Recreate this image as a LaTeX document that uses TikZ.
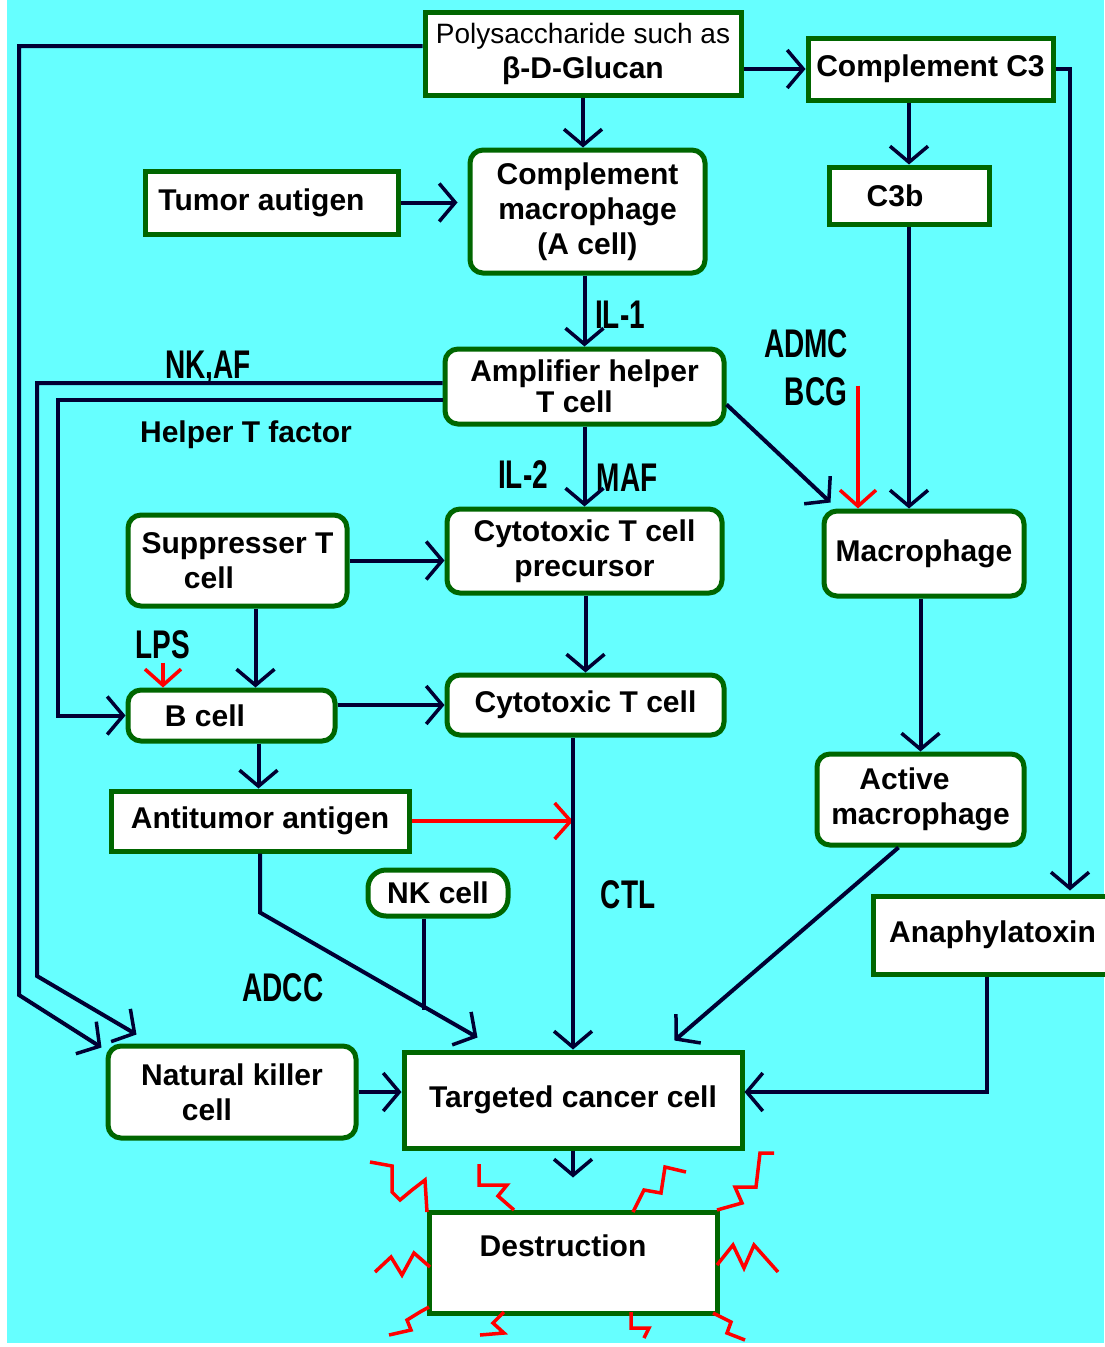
\documentclass[tikz,border=0pt]{standalone}
\usepackage{fontspec}
\setmainfont{Liberation Sans}
\newfontfamily\lblfont{Liberation Sans}[FakeStretch=0.7]
\usetikzlibrary{arrows.meta,calc}
\definecolor{bgc}{HTML}{66FFFF}
\definecolor{navy}{HTML}{000033}
\definecolor{gr}{HTML}{006600}
\definecolor{rd}{HTML}{FF0000}
\begin{document}
\begin{tikzpicture}[x=1pt,y=-1pt,
 box/.style={draw=gr,line width=5pt,fill=white,inner sep=0pt,align=center,font=\fontsize{30}{35}\selectfont\bfseries},
 rbox/.style={box,rounded corners=13pt},
 conn/.style={draw=navy,line width=4pt},
 arr/.style={conn,-{Straight Barb[length=16pt,width=38pt,line width=3.5pt]}},
 redarr/.style={draw=rd,line width=4pt,-{Straight Barb[length=16pt,width=36pt,line width=3.5pt]}},
 lbl/.style={font=\lblfont\bfseries\fontsize{40}{44}\selectfont,inner sep=0pt},
 blbl/.style={font=\fontsize{30}{34}\selectfont\bfseries,inner sep=0pt},
 squig/.style={draw=rd,line width=3.5pt,line join=miter}
]
\useasboundingbox (0,0) rectangle (1104,1347);
\fill[white] (0,0) rectangle (1104,1347);
\fill[bgc] (7,0) rectangle (1104,1343);

% nodes
\node[box,minimum width=316pt,minimum height=83pt] (poly) at (583,53.5)
  {{\mdseries\fontsize{28}{32}\selectfont Polysaccharide such as}\\ β-D-Glucan};
\node[box,minimum width=245pt,minimum height=62pt] (c3) at (930.5,69) {Complement C3};
\node[rbox,minimum width=235pt,minimum height=123pt] (cmac) at (587.5,211.5) {Complement\\ macrophage\\ (A cell)};
\node[box,minimum width=253pt,minimum height=63pt] (tumor) at (271.5,202.5) {Tumor autigen\hspace*{20pt}};
\node[box,minimum width=160pt,minimum height=57pt] (c3b) at (909,195.5) {C3b\hspace*{28pt}};
\node[rbox,minimum width=279pt,minimum height=75pt,font=\fontsize{30}{31}\selectfont\bfseries] (amp) at (584.5,386.5) {Amplifier helper\\ T cell\hspace*{20pt}};
\node[rbox,minimum width=219pt,minimum height=91pt] (supp) at (237.5,560.5) {Suppresser T\\ cell\hspace*{57pt}};
\node[rbox,minimum width=275pt,minimum height=84pt] (prec) at (584.5,551) {Cytotoxic T cell\\ precursor};
\node[rbox,minimum width=200pt,minimum height=85pt] (mac) at (924,553.5) {Macrophage};
\node[rbox,minimum width=207pt,minimum height=51pt] (bcell) at (231.5,715.5) {B cell\hspace*{53pt}};
\node[rbox,minimum width=277pt,minimum height=60pt] (ctc) at (585.5,705) {Cytotoxic T cell};
\node[rbox,minimum width=207pt,minimum height=91pt] (amac) at (920.5,799.5) {Active\hspace*{32pt}\\ macrophage};
\node[box,minimum width=298pt,minimum height=60pt] (anti) at (260,821) {Antitumor antigen};
\node[rbox,rounded corners=18pt,minimum width=140pt,minimum height=46pt] (nkc) at (438,893) {NK cell};
\node[box,minimum width=239pt,minimum height=78pt] (ana) at (992.5,935) {Anaphylatoxin};
\node[rbox,minimum width=248pt,minimum height=92pt] (nkl) at (232,1092) {Natural killer\\ cell\hspace*{50pt}};
\node[box,minimum width=338pt,minimum height=96pt] (tgt) at (573,1100) {Targeted cancer cell};
\node[box,minimum width=288pt,minimum height=101pt] (dest) at (573,1262.5) {};
\node[blbl] (destl) at (563,1246) {Destruction};

% labels
\node[lbl] (il1) at (620,315) {IL-1};
\node[lbl] (nkaf) at (208,368) {NK,AF};
\node[blbl] (htf) at (246,435) {Helper T factor};
\node[lbl] (admc) at (806,344) {ADMC};
\node[lbl] (bcg) at (816,392) {BCG};
\node[lbl] (il2) at (523,475) {IL-2};
\node[lbl] (maf) at (627,478) {MAF};
\node[lbl] (lps) at (163,645) {LPS};
\node[lbl] (ctl) at (628,895) {CTL};
\node[lbl] (adcc) at (283,988) {ADCC};

% helper coordinates
\coordinate (nkA) at ($(nkl.north west)+(-4,4)$);
\coordinate (nkB) at ($(nkl.north west)+(31,-9)$);
\coordinate (sb) at ($(bcell.north)+(24,0)$);
\coordinate (ba) at ($(bcell.south)+(27,0)$);
\coordinate (adccend) at ($(tgt.north west)+(76,-12)$);
\coordinate (amacend) at ($(tgt.north east)+(-70,-9)$);
\coordinate (te) at ($(tgt.east)+(0,-8)$);
\coordinate (an) at ($(ana.north)+(77.5,-3)$);
\coordinate (destin) at ($(dest.north)+(0,-32)$);
\coordinate (macnw) at ($(mac.north west)+(9,-6)$);
\coordinate (bcgtop) at ($(mac.north)+(-66,-123)$);
\coordinate (bcgend) at ($(mac.north)+(-66,0)$);
\coordinate (lpstop) at ($(bcell.north)+(-68.5,-25)$);
\coordinate (lpsend) at ($(bcell.north)+(-68.5,0)$);
\coordinate (cmw) at ($(cmac.west)+(-10,0)$);

% connectors
\draw[arr] ($(poly.west)+(0,-7.5)$) -- (19,46) -- (19,995) -- (nkA);
\draw[arr] ($(amp.west)+(0,-3.5)$) -- (37,383) -- (37,976) -- (nkB);
\draw[arr] ($(amp.west)+(0,13.5)$) -- (58,400) -- (58,715.5) -- (bcell.west);
\draw[arr] (poly.south) -- (poly.south |- cmac.north);
\draw[arr] (poly.east |- c3.west) -- (c3.west);
\draw[arr] (c3.east) -| (an);
\draw[arr] (c3b.north |- c3.south) -- (c3b.north);
\draw[arr] (c3b.south) -- (c3b.south |- mac.north);
\draw[arr] (tumor.east) -- (tumor.east -| cmw);
\draw[arr] (amp.north |- cmac.south) -- (amp.north);
\draw[arr] (prec.north |- amp.south) -- (prec.north);
\draw[arr] ($(amp.east)+(0,18)$) -- (macnw);
\draw[redarr] (bcgtop) -- (bcgend);
\draw[arr] (supp.east) -- (supp.east -| prec.west);
\draw[arr] (sb |- supp.south) -- (sb);
\draw[redarr] (lpstop) -- (lpsend);
\draw[arr] (ctc.west -| bcell.east) -- (ctc.west);
\draw[arr] (ctc.north |- prec.south) -- (ctc.north);
\draw[arr] (ba) -- (ba |- anti.north);
\draw[redarr] (anti.east) -- (anti.east -| tgt.north);
\draw[arr] (tgt.north |- ctc.south) -- (tgt.north);
\draw[arr] (amac.north |- mac.south) -- (amac.north);
\draw[arr] ($(amac.south)+(-22,0)$) -- (amacend);
\draw[arr] (anti.south) -- ++(0,59) -- (adccend);
\draw[conn] ($(nkc.south)+(-14,0)$) -- ++(0,91);
\draw[arr] ($(ana.south)+(-6,0)$) |- (te);
\draw[arr] (nkl.east) -- (nkl.east -| tgt.west);
\draw[arr] (tgt.south) -- (destin);

% red squiggles
\draw[squig] (370,1162) -- (392,1166) -- (392,1192) -- (400,1200) -- (412,1190) -- (425,1180) -- (427,1212);
\draw[squig] (479,1164) -- (479,1185) -- (507,1185) -- (498,1196) -- (514,1210);
\draw[squig] (375,1272) -- (391,1257) -- (402,1275) -- (414,1253) -- (430,1267);
\draw[squig] (429,1307) -- (420,1312) -- (407,1320) -- (411,1330) -- (389,1335);
\draw[squig] (504,1312) -- (493,1323) -- (504,1333) -- (480,1335);
\draw[squig] (633,1212) -- (644,1190) -- (661,1193) -- (665,1167) -- (686,1172);
\draw[squig] (717,1210) -- (742,1203) -- (735,1187) -- (756,1187) -- (760,1153) -- (774,1153);
\draw[squig] (717,1265) -- (733,1245) -- (744,1268) -- (754,1245) -- (778,1272);
\draw[squig] (631,1312) -- (631,1328) -- (649,1328) -- (644,1338);
\draw[squig] (713,1313) -- (731,1322) -- (727,1333) -- (745,1340);
\end{tikzpicture}
\end{document}
